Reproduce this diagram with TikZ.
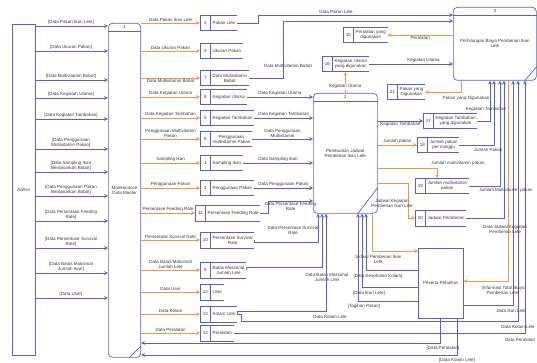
\documentclass[tikz,border=0pt]{standalone}
\usepackage{fontspec}
\setmainfont{Liberation Sans}
\usepackage{tikz}
\usetikzlibrary{positioning}
\usetikzlibrary{arrows}
\usetikzlibrary{shapes.multipart}
\definecolor{dfdblue}{RGB}{92,92,214}
\definecolor{dfdorange}{RGB}{240,150,70}
\definecolor{dfdtext}{RGB}{55,55,55}

\begin{document}
\begin{tikzpicture}[
            x = 1pt, y = -1pt, % pixel grid of the screenshot
            > = stealth, % arrow head style
            font = \fontsize{4.5}{5}\selectfont,
            text = dfdtext,
            line width = 0.7pt
        ]

        \tikzstyle{proc}=[draw = dfdblue, rounded corners = 4pt, align = center, anchor = north west]
        \tikzstyle{entity}=[draw = dfdblue, align = center, anchor = north west]
        \tikzstyle{storeline}=[draw = dfdblue, -]
        \tikzstyle{store}=[rectangle split, rectangle split horizontal, rectangle split parts = 2,
            minimum height = 15pt, inner sep = 1.5pt, align = center, anchor = west,
            append after command = {
                (\tikzlastnode.north east) edge[storeline] (\tikzlastnode.north west)
                (\tikzlastnode.north west) edge[storeline] (\tikzlastnode.south west)
                (\tikzlastnode.south west) edge[storeline] (\tikzlastnode.south east)
                ([xshift = 10pt]\tikzlastnode.north west) edge[storeline] ([xshift = 10pt]\tikzlastnode.south west)}]
        \tikzstyle{lbl}=[inner sep = 1pt, align = center]
        \tikzstyle{inflow}=[->, draw = dfdblue]
        \tikzstyle{outflow}=[->, draw = dfdorange]

        \useasboundingbox (0,0) rectangle (537,363);

        % external entities
        \node[entity, minimum width = 23pt, minimum height = 331pt] (ADM) at (12,24) {Admin};
        \node[entity, minimum width = 45pt, minimum height = 70pt] (PP) at (418,248) {Peserta Pelatihan};
        \draw[dfdblue, line width = 1.3pt] (PP.south west) -- (PP.south east);

        % processes
        \node[proc, minimum width = 32pt, minimum height = 334pt] (P1) at (108,23) {Maintenance\\Data Master};
        \node[proc, minimum width = 64pt, minimum height = 120pt] (P2) at (313,93) {Pembuatan Jadwal\\Pemberian Ikan Lele};
        \node[proc, minimum width = 83pt, minimum height = 73pt] (P3) at (453,7) {Perhitungan Biaya Pemberian Ikan\\Lele};

        \node (P1no) at ([yshift=-4pt]P1.north) {1};
        \node (P2no) at ([yshift=-4pt]P2.north) {2};
        \node (P3no) at ([yshift=-4pt]P3.north) {3};
        \draw[dfdblue] ([yshift=-8pt]P1.north west) -- ([yshift=-8pt]P1.north east);
        \draw[dfdblue] ([yshift=-8pt]P2.north west) -- ([yshift=-8pt]P2.north east);
        \draw[dfdblue] ([yshift=-8pt]P3.north west) -- ([yshift=-8pt]P3.north east);
        \draw[dfdblue] ([xshift=-12pt]P1.south east) -- ([yshift=12pt]P1.south east);
        \draw[dfdblue] ([xshift=-20pt]P2.south east) -- ([yshift=26pt]P2.south east);
        \draw[dfdblue] ([xshift=-12pt]P3.south east) -- ([yshift=14pt]P3.south east);

        % admin to maintenance
        \tikzstyle{every node}=[inner ysep = 2pt]
        \node[lbl, anchor = south] (A1) at (71,26) {[Data Pakan Ikan Lele]};
        \node[lbl, anchor = south] (A2) at (71,51) {[Data Ukuran Pakan]};
        \node[lbl, anchor = south] (A3) at (71,80) {[Data Multivitamin Bobot]};
        \node[lbl, anchor = south] (A4) at (71,98) {[Data Kegiatan Utama]};
        \node[lbl, anchor = south] (A5) at (71,119) {[Data Kegiatan Tambahan]};
        \node[lbl, anchor = south] (A6) at (71,149) {[Data Penggunaan\\Multivitamin Pakan]};
        \node[lbl, anchor = south] (A7) at (71,172) {[Data Sampling Ikan\\Berdasarkan Bobot]};
        \node[lbl, anchor = south] (A8) at (71,196) {[Data Penggunaan Pakan\\Berdasarkan Bobot]};
        \node[lbl, anchor = south] (A9) at (71,221) {[Data Persentase Feeding\\Rate]};
        \node[lbl, anchor = south] (A10) at (71,248) {[Data Persentase Survival\\Rate]};
        \node[lbl, anchor = south] (A11) at (71,273) {[Data Batas Maksimal\\Jumlah Ikan]};
        \node[lbl, anchor = south] (A12) at (71,298) {[Data User]};
        \tikzstyle{every node}=[]

        \draw[inflow] (A1.south -| ADM.east) -- (A1.south -| P1.west);
        \draw[inflow] (A2.south -| ADM.east) -- (A2.south -| P1.west);
        \draw[inflow] (A3.south -| ADM.east) -- (A3.south -| P1.west);
        \draw[inflow] (A4.south -| ADM.east) -- (A4.south -| P1.west);
        \draw[inflow] (A5.south -| ADM.east) -- (A5.south -| P1.west);
        \draw[inflow] (A6.south -| ADM.east) -- (A6.south -| P1.west);
        \draw[inflow] (A7.south -| ADM.east) -- (A7.south -| P1.west);
        \draw[inflow] (A8.south -| ADM.east) -- (A8.south -| P1.west);
        \draw[inflow] (A9.south -| ADM.east) -- (A9.south -| P1.west);
        \draw[inflow] (A10.south -| ADM.east) -- (A10.south -| P1.west);
        \draw[inflow] (A11.south -| ADM.east) -- (A11.south -| P1.west);
        \draw[inflow] (A12.south -| ADM.east) -- (A12.south -| P1.west);

        % data stores, master column
        \node[store, minimum width = 47pt] (D2) at (200,23) {\makebox[7pt]{2} \nodepart{two} Pakan Lele};
        \node[store, minimum width = 56pt] (D3) at (200,51) {\makebox[7pt]{3} \nodepart{two} Ukuran Pakan};
        \node[store, minimum width = 55pt] (D7) at (200,78) {\makebox[7pt]{7} \nodepart{two} Data Multivitamin\\Bobot};
        \node[store, minimum width = 55pt] (D8) at (200,97) {\makebox[7pt]{8} \nodepart{two} Kegiatan Utama};
        \node[store, minimum width = 55pt] (D5) at (200,118) {\makebox[7pt]{5} \nodepart{two} Kegiatan Tambahan};
        \node[store, minimum width = 56pt] (D6) at (200,139) {\makebox[7pt]{6} \nodepart{two} Penggunaan\\multivitamin Pakan};
        \node[store, minimum width = 55pt] (D1) at (200,163) {\makebox[7pt]{1} \nodepart{two} Sampling Ikan};
        \node[store, minimum width = 55pt] (D4) at (200,188) {\makebox[7pt]{4} \nodepart{two} Penggunaan Pakan};
        \node[store, minimum width = 67pt] (D11) at (195,213) {\makebox[7pt]{11} \nodepart{two} Persentase Feeding Rate};
        \node[store, minimum width = 60pt] (D10) at (200,240) {\makebox[7pt]{10} \nodepart{two} Persentase Survival\\Rate};
        \node[store, minimum width = 55pt] (D9) at (200,270) {\makebox[7pt]{9} \nodepart{two} Batas Maksimal\\Jumlah Lele};
        \node[store, minimum width = 55pt] (D12) at (200,292) {\makebox[7pt]{12} \nodepart{two} User};
        \node[store, minimum width = 55pt] (D13) at (200,314) {\makebox[7pt]{13} \nodepart{two} Kolam Lele};
        \node[store, minimum width = 55pt] (D14) at (200,333) {\makebox[7pt]{14} \nodepart{two} Peralatan};

        % maintenance writes the stores
        \draw[outflow] (D2.west -| P1.east) -- node[lbl, above] (o2) {Data Pakan Ikan Lele} (D2.west);
        \draw[outflow] (D3.west -| P1.east) -- node[lbl, above] (o3) {Data Ukuran Pakan} (D3.west);
        \draw[outflow] (D7.west -| P1.east) -- node[lbl, below] (o7) {Data Multivitamin Bobot} (D7.west);
        \draw[outflow] (D8.west -| P1.east) -- node[lbl, above] (o8) {Data Kegiatan Utama} (D8.west);
        \draw[outflow] (D5.west -| P1.east) -- node[lbl, above] (o5) {Data Kegiatan Tambahan} (D5.west);
        \draw[outflow] (D6.west -| P1.east) -- node[lbl, above] (o6) {Penggunaan Multivitamin\\Pakan} (D6.west);
        \draw[outflow] (D1.west -| P1.east) -- node[lbl, above] (o1) {Sampling Ikan} (D1.west);
        \draw[outflow] (D4.west -| P1.east) -- node[lbl, above] (o4) {Penggunaan Pakan} (D4.west);
        \draw[outflow] (D11.west -| P1.east) -- node[lbl, above] (o11) {Persentase Feeding Rate} (D11.west);
        \draw[outflow] (D10.west -| P1.east) -- node[lbl, above] (o10) {Persentase Survival Rate} (D10.west);
        \draw[outflow] (D9.west -| P1.east) -- node[lbl, above] (o9) {Data Batas Maksimal\\Jumlah Lele} (D9.west);
        \draw[outflow] (D12.west -| P1.east) -- node[lbl, above] (o12) {Data User} (D12.west);
        \draw[outflow] (D13.west -| P1.east) -- node[lbl, above] (o13) {Data Kolam} (D13.west);
        \draw[outflow] (D14.west -| P1.east) -- node[lbl, above] (o14) {Data Peralatan} (D14.west);

        % stores read by the schedule process
        \draw[inflow] (D8.east) -- node[lbl, above] (m8) {Data Kegiatan Utama} (D8.east -| P2.west);
        \draw[inflow] (D5.east) -- node[lbl, above] (m5) {Data Kegiatan Tambahan} (D5.east -| P2.west);
        \draw[inflow] (D6.east) -- node[lbl, above] (m6) {Data Penggunaan\\Multivitamin} (D6.east -| P2.west);
        \draw[inflow] (D1.east) -- node[lbl, above] (m1) {Data Sampling Ikan} (D1.east -| P2.west);
        \draw[inflow] (D4.east) -- node[lbl, above] (m4) {Data Penggunaan Pakan} (D4.east -| P2.west);
        \coordinate (c11) at (268,201);
        \draw[inflow] (D11.east) -| (c11) -- node[lbl, below] (m11) {Data Persentase Feeding\\Rate} (c11 -| P2.west);
        \coordinate (c10) at (318,242);
        \draw[inflow] (D10.east) |- (c10) -- (c10 |- P2.south);
        \node[lbl] (m10) at (293,230) {Data Persentase Survival\\Rate};
        \coordinate (c9) at (322,267);
        \draw[inflow] (D9.east) |- (c9) -- (c9 |- P2.south);
        \node[lbl] (m9) at (327,277) {Data Batas Maksimal\\Jumlah Lele};
        \coordinate (c13) at (326,311);
        \draw[inflow] (D13.east) |- (c13) -- (c13 |- P2.south);
        \node[lbl] (m13) at (330,317) {Data Kolam Lele};

        % stores of the cost process
        \node[store, minimum width = 54pt] (D15) at (343,35) {\makebox[7pt]{15} \nodepart{two} Peralatan yang\\digunakan};
        \node[store, minimum width = 58pt] (D16) at (322,64) {\makebox[7pt]{16} \nodepart{two} Kegiatan Utama\\yang digunakan};
        \node[store, minimum width = 53pt] (D21) at (387,92) {\makebox[7pt]{21} \nodepart{two} Pakan yang\\Digunakan};
        \node[store, minimum width = 64pt] (D17) at (423,121) {\makebox[7pt]{17} \nodepart{two} Kegiatan Tambahan\\yang digunakan};
        \node[store, minimum width = 50pt] (D18) at (417,145) {\makebox[7pt]{18} \nodepart{two} Jumlah pakan\\per minggu};
        \node[store, minimum width = 60pt] (D19) at (415,186) {\makebox[7pt]{19} \nodepart{two} Jumlah multivitamin\\pakan};
        \node[store, minimum width = 60pt] (D20) at (415,218) {\makebox[7pt]{20} \nodepart{two} Jadwal Pemberian};

        % schedule process outputs
        \draw[outflow] (P2.north) -- node[lbl, fill = white, pos = 0.3] (ku) {Kegiatan Utama} (P2.north |- D16.south);
        \draw[inflow] (D17.west -| P2.east) -- node[lbl, below] (r17) {Kegiatan Tambahan} (D17.west);
        \draw[outflow] (D18.west -| P2.east) -- node[lbl, above] (r18) {Jumlah pakan} (D18.west);
        \coordinate (u19) at (437,168);
        \draw[outflow] (u19 -| P2.east) -- (u19) -- (u19 |- D19.north);
        \node[lbl] (r19) at (458,163) {Jumlah multivitamin pakan};
        \coordinate (u20) at (408,183);
        \draw[outflow] (u20 -| P2.east) -- (u20) |- (D20.west);
        \node[lbl] (r20) at (392,203) {Jadwal Kegiatan\\Pemberian Ikan Lele};
        \coordinate (u22) at (372,251);
        \draw[outflow] (u22 |- P2.south) -- (u22) -- (u22 -| PP.west);
        \node[lbl] (r22) at (378,259) {Jadwal Pemberian Ikan\\Lele};

        % participant to schedule process
        \coordinate (w1) at (366,270);
        \coordinate (w2) at (362,287);
        \coordinate (w3) at (358,301);
        \draw[inflow] (w1 -| PP.west) -- (w1) -- (w1 |- P2.south);
        \draw[inflow] (w2 -| PP.west) -- (w2) -- (w2 |- P2.south);
        \draw[inflow] (w3 -| PP.west) -- (w3) -- (w3 |- P2.south);
        \node[lbl] (k1) at (378,276) {[Data Kesehatan Kolam]};
        \node[lbl] (k2) at (369,293) {[Data Ikan Lele]};
        \node[lbl] (k3) at (364,306) {[Tagihan Pakan]};

        % participant to maintenance
        \coordinate (q1) at (440,343);
        \coordinate (q2) at (457,355);
        \draw[inflow] (q1 |- PP.south) -- (q1) -- (q1 -| P1.east);
        \draw[inflow] (q2 |- PP.south) -- (q2) -- (q2 -| P1.east);
        \node[lbl] (k4) at (443,348) {[Data Peralatan]};
        \node[lbl] (k5) at (457,360) {[Data Kolam Lele]};

        % cost process
        \coordinate (u2) at (258,15);
        \draw[inflow] (D2.east) -| (u2) -- node[lbl, above, pos = 0.4] (r2) {Data Pakan Lele} (u2 -| P3.west);
        \coordinate (u7) at (283,21);
        \draw[inflow] (D7.east) -| (u7) -- (u7 -| P3.west);
        \node[lbl] (r7) at (288,66) {Data Multivitamin Bobot};
        \draw[outflow] (D15.east -| P3.west) -- node[lbl, below] (r15) {Peralatan} (D15.east);
        \draw[inflow] (D16.east) -- node[lbl, above, pos = 0.65] (r16) {Kegiatan Utama} (D16.east -| P3.west);
        \coordinate (t21) at (461,92);
        \draw[outflow] (t21 |- P3.south) -- (t21) -- (D21.east);
        \node[lbl] (r21) at (466,98) {Pakan yang Digunakan};

        \coordinate (v17) at (490,121);
        \coordinate (v18) at (494,145);
        \coordinate (v19) at (500,186);
        \coordinate (v20) at (504,218);
        \coordinate (v22) at (508,281);
        \coordinate (v23) at (513,305);
        \coordinate (v24) at (518,321);
        \coordinate (v25) at (525,333);
        \draw[inflow] (D17.east) -- (v17) -- (v17 |- P3.south);
        \draw[inflow] (D18.east) -- (v18) -- (v18 |- P3.south);
        \draw[inflow] (D19.east) -- (v19) -- (v19 |- P3.south);
        \draw[inflow] (D20.east) -- (v20) -- (v20 |- P3.south);
        \draw[outflow] (v22 |- P3.south) -- (v22) -- (v22 -| PP.east);
        \draw[inflow] (v23 -| PP.east) -- (v23) -- (v23 |- P3.south);
        \draw[inflow] (D13.east) -- ++(4,0) |- (v24) -- (v24 |- P3.south);
        \draw[inflow] (D14.east) -- (v25) -- (v25 |- P3.south);
        \node[lbl] (k6) at (486,109) {Kegiatan Tambahan};
        \node[lbl] (k7) at (488,150) {Jumlah Pakan};
        \node[lbl] (k8) at (506,190) {Jumlah Multivitamin pakan};
        \node[lbl] (k9) at (505,229) {Data Jadwal Kegiatan\\Pemberian Lele};
        \node[lbl] (k10) at (503,291) {[Informasi Total Biaya\\Pemberian Lele]};
        \node[lbl] (k11) at (511,311) {Data Ikan Lele};
        \node[lbl] (k12) at (518,327) {Data Kolam Lele};
        \node[lbl] (k13) at (520,340) {Data Peralatan};

\end{tikzpicture}
\end{document}
